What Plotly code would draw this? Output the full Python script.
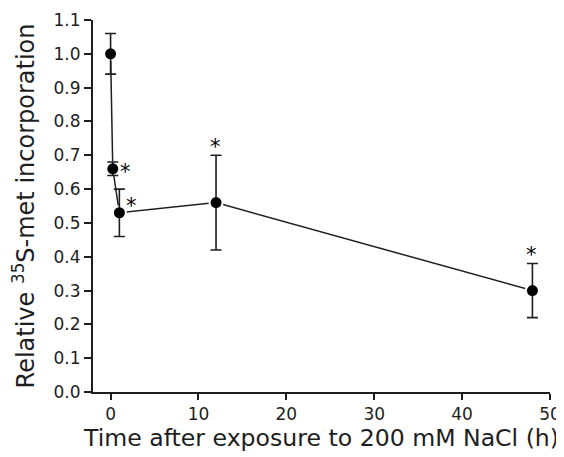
import plotly.graph_objects as go

# Data
time_h = [0, 0.25, 1, 12, 48]
relative_incorporation = [1.00, 0.66, 0.53, 0.56, 0.30]
error = [0.06, 0.02, 0.07, 0.14, 0.08]
significant = [False, True, True, True, True]
star_side = [None, "right", "right", "top", "top"]

x_ticks = [0, 10, 20, 30, 40, 50]
y_ticks = [round(i * 0.1, 1) for i in range(12)]

x_title = "Time after exposure to 200 mM NaCl (h)"
y_title = "Relative <sup>35</sup>S-met incorporation"

FONT = "DejaVu Sans"
INK = "#1e1e1e"

fig = go.Figure()

# connecting line
fig.add_trace(go.Scatter(
    x=time_h, y=relative_incorporation, mode="lines",
    line=dict(color=INK, width=1.5), hoverinfo="skip", showlegend=False,
))
# white halo around markers (gap between line and marker)
fig.add_trace(go.Scatter(
    x=time_h, y=relative_incorporation, mode="markers",
    marker=dict(color="white", size=15, line=dict(width=0)),
    hoverinfo="skip", showlegend=False,
))
# markers with error bars
fig.add_trace(go.Scatter(
    x=time_h, y=relative_incorporation, mode="markers",
    marker=dict(color="black", size=11, line=dict(width=0)),
    error_y=dict(type="data", array=error, visible=True,
                 color=INK, thickness=1.6, width=5.5),
    showlegend=False,
))

annotations = []
for xv, yv, ev, sig, side in zip(time_h, relative_incorporation, error, significant, star_side):
    if not sig:
        continue
    if side == "right":
        annotations.append(dict(x=xv, y=yv, xref="x", yref="y", text="*",
                                showarrow=False, xanchor="center", yanchor="middle",
                                xshift=13 if xv < 0.5 else 12,
                                yshift=-3 if xv < 0.5 else 7,
                                font=dict(family=FONT, size=21, color="#000000")))
    else:
        annotations.append(dict(x=xv, y=yv + ev, xref="x", yref="y", text="*",
                                showarrow=False, xanchor="center", yanchor="middle",
                                xshift=-1, yshift=8,
                                font=dict(family=FONT, size=21, color="#000000")))

fig.update_layout(
    width=556, height=449,
    margin=dict(l=85, r=14, t=12, b=65, autoexpand=False),
    paper_bgcolor="white", plot_bgcolor="white",
    font=dict(family=FONT, color=INK),
    annotations=annotations,
    xaxis=dict(
        range=[-2, 50], tickvals=x_ticks, ticks="outside", ticklen=6, tickwidth=1.8,
        tickcolor=INK, showline=True, linewidth=2, linecolor=INK, automargin=False,
        showgrid=False, zeroline=False, tickfont=dict(family=FONT, size=17, color=INK),
        title=dict(text=x_title, font=dict(family=FONT, size=23.6, color=INK), standoff=5),
    ),
    yaxis=dict(
        range=[0, 1.1], tickvals=y_ticks, tickformat=".1f", ticks="outside", ticklen=7,
        tickwidth=1.8, tickcolor=INK, showline=True, linewidth=2, linecolor=INK,
        automargin=False,
        showgrid=False, zeroline=False, tickfont=dict(family=FONT, size=17, color=INK),
        title=dict(text=y_title, font=dict(family=FONT, size=24, color=INK), standoff=13),
    ),
)

fig.write_html("out.html")
